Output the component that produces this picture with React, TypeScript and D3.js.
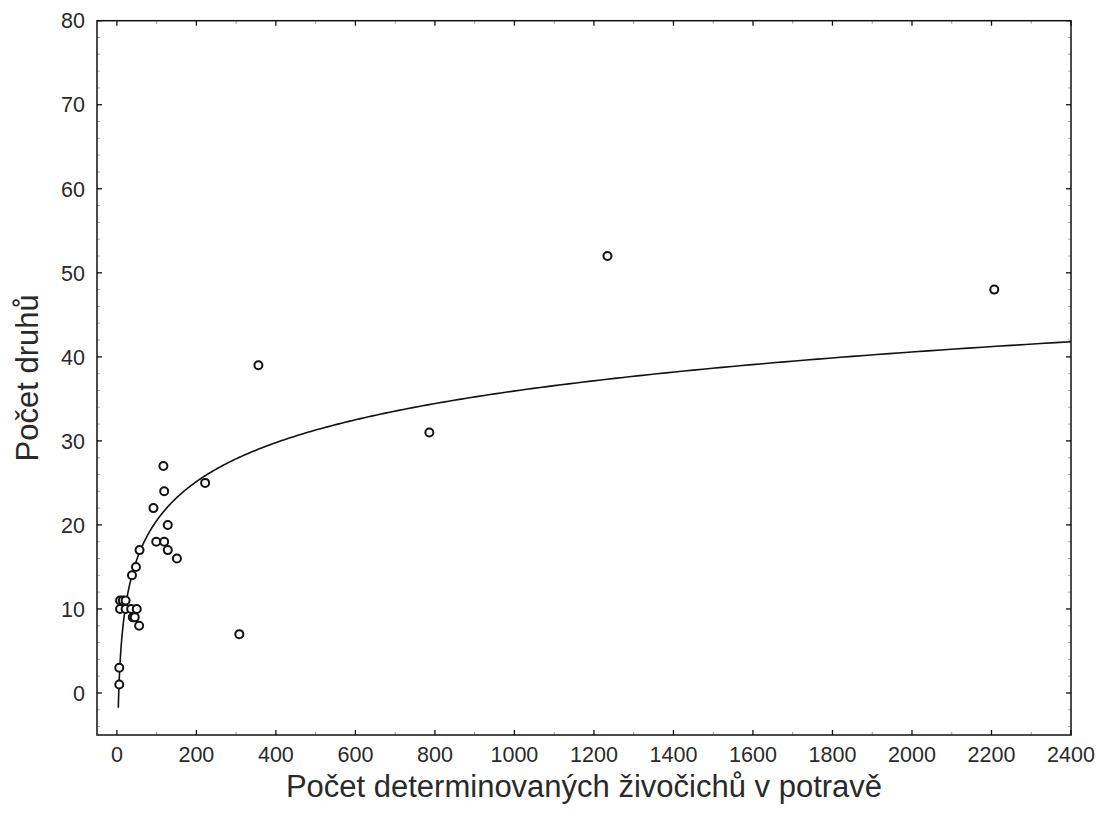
import React from "react";
import * as d3 from "d3";

// Observations: number of determined prey animals vs. number of species
const preyCounts = [6, 6, 8, 15, 22, 8, 22, 36, 50, 40, 45, 56, 38, 48, 57, 92, 99, 119, 128, 128, 119, 117, 151, 222, 308, 356, 786, 1234, 2207];
const speciesCounts = [1, 3, 11, 11, 11, 10, 10, 10, 10, 9, 9, 8, 14, 15, 17, 22, 18, 18, 17, 20, 24, 27, 16, 25, 7, 39, 31, 52, 48];

// Logarithmic fit: y = intercept + slope * ln(x)
const fitIntercept = -10.35;
const fitSlope = 6.7;
const fitStart = 3.6;
const fitEnd = 2400;

const xTicks = [0, 200, 400, 600, 800, 1000, 1200, 1400, 1600, 1800, 2000, 2200, 2400];
const yTicks = [0, 10, 20, 30, 40, 50, 60, 70, 80];

const xTitle = "Počet determinovaných živočichů v potravě";
const yTitle = "Počet druhů";

const W = 1105;
const H = 825;
const left = 97;
const right = 1071;
const top = 20.7;
const bottom = 735;

export default function App() {
  const x = d3.scaleLinear().domain([-50, 2400]).range([left, right]);
  const y = d3.scaleLinear().domain([-5, 80]).range([bottom, top]);

  const xMinor = d3.range(100, 2400, 200);
  const yMinor = d3.range(-4, 80, 2).filter((v) => v % 10 !== 0);

  const fitPts: [number, number][] = d3
    .range(0, 401)
    .map((i) => {
      const lx = Math.log(fitStart) + (Math.log(fitEnd) - Math.log(fitStart)) * (i / 400);
      const xv = Math.exp(lx);
      return [xv, fitIntercept + fitSlope * Math.log(xv)];
    });
  const line = d3
    .line<[number, number]>()
    .x((d) => x(d[0]))
    .y((d) => y(d[1]));

  const font = "'Liberation Sans', Arial, sans-serif";
  const textColor = "#2a2a2a";

  return (
    <svg
      width={W}
      height={H}
      style={{ position: "absolute", left: 0, top: 0, background: "#fff" }}
    >
      <rect x={0} y={0} width={W} height={H} fill="#fff" />

      {/* minor ticks */}
      {xMinor.map((v) => (
        <g key={"xm" + v} stroke="#999" strokeWidth={1}>
          <line x1={x(v)} x2={x(v)} y1={bottom} y2={bottom - 3} />
          <line x1={x(v)} x2={x(v)} y1={top} y2={top + 3} />
        </g>
      ))}
      {yMinor.map((v) => (
        <g key={"ym" + v} stroke="#aaa" strokeWidth={1}>
          <line x1={left} x2={left + 3} y1={y(v)} y2={y(v)} />
          <line x1={right} x2={right - 3} y1={y(v)} y2={y(v)} />
        </g>
      ))}

      {/* major ticks */}
      {xTicks.map((v) => (
        <g key={"xt" + v} stroke="#111" strokeWidth={1.3}>
          <line x1={x(v)} x2={x(v)} y1={bottom} y2={bottom - 5} />
          <line x1={x(v)} x2={x(v)} y1={top} y2={top + 5} />
        </g>
      ))}
      {yTicks.map((v) => (
        <g key={"yt" + v} stroke="#111" strokeWidth={1.3}>
          <line x1={left} x2={left + 5} y1={y(v)} y2={y(v)} />
          <line x1={right} x2={right - 5} y1={y(v)} y2={y(v)} />
        </g>
      ))}

      {/* frame */}
      <rect
        x={left}
        y={top}
        width={right - left}
        height={bottom - top}
        fill="none"
        stroke="#111"
        strokeWidth={1.5}
      />

      {/* tick labels */}
      {xTicks.map((v) => (
        <text
          key={"xl" + v}
          x={x(v)}
          y={762}
          textAnchor="middle"
          fontFamily={font}
          fontSize={21.5}
          fill={textColor}
        >
          {v}
        </text>
      ))}
      {yTicks.map((v) => (
        <text
          key={"yl" + v}
          x={85}
          y={y(v)}
          dy="0.36em"
          textAnchor="end"
          fontFamily={font}
          fontSize={21.5}
          fill={textColor}
        >
          {v}
        </text>
      ))}

      {/* fitted curve */}
      <path d={line(fitPts) ?? ""} fill="none" stroke="#111" strokeWidth={1.6} />

      {/* observations */}
      {preyCounts.map((px, i) => (
        <circle
          key={"p" + i}
          cx={x(px)}
          cy={y(speciesCounts[i])}
          r={4}
          fill="#fff"
          stroke="#111"
          strokeWidth={2}
        />
      ))}

      {/* axis titles */}
      <text
        x={(left + right) / 2}
        y={797}
        textAnchor="middle"
        fontFamily={font}
        fontSize={31}
        fill={textColor}
      >
        {xTitle}
      </text>
      <text
        transform={`translate(38, ${(top + bottom) / 2}) rotate(-90)`}
        textAnchor="middle"
        fontFamily={font}
        fontSize={31}
        fill={textColor}
      >
        {yTitle}
      </text>
    </svg>
  );
}
